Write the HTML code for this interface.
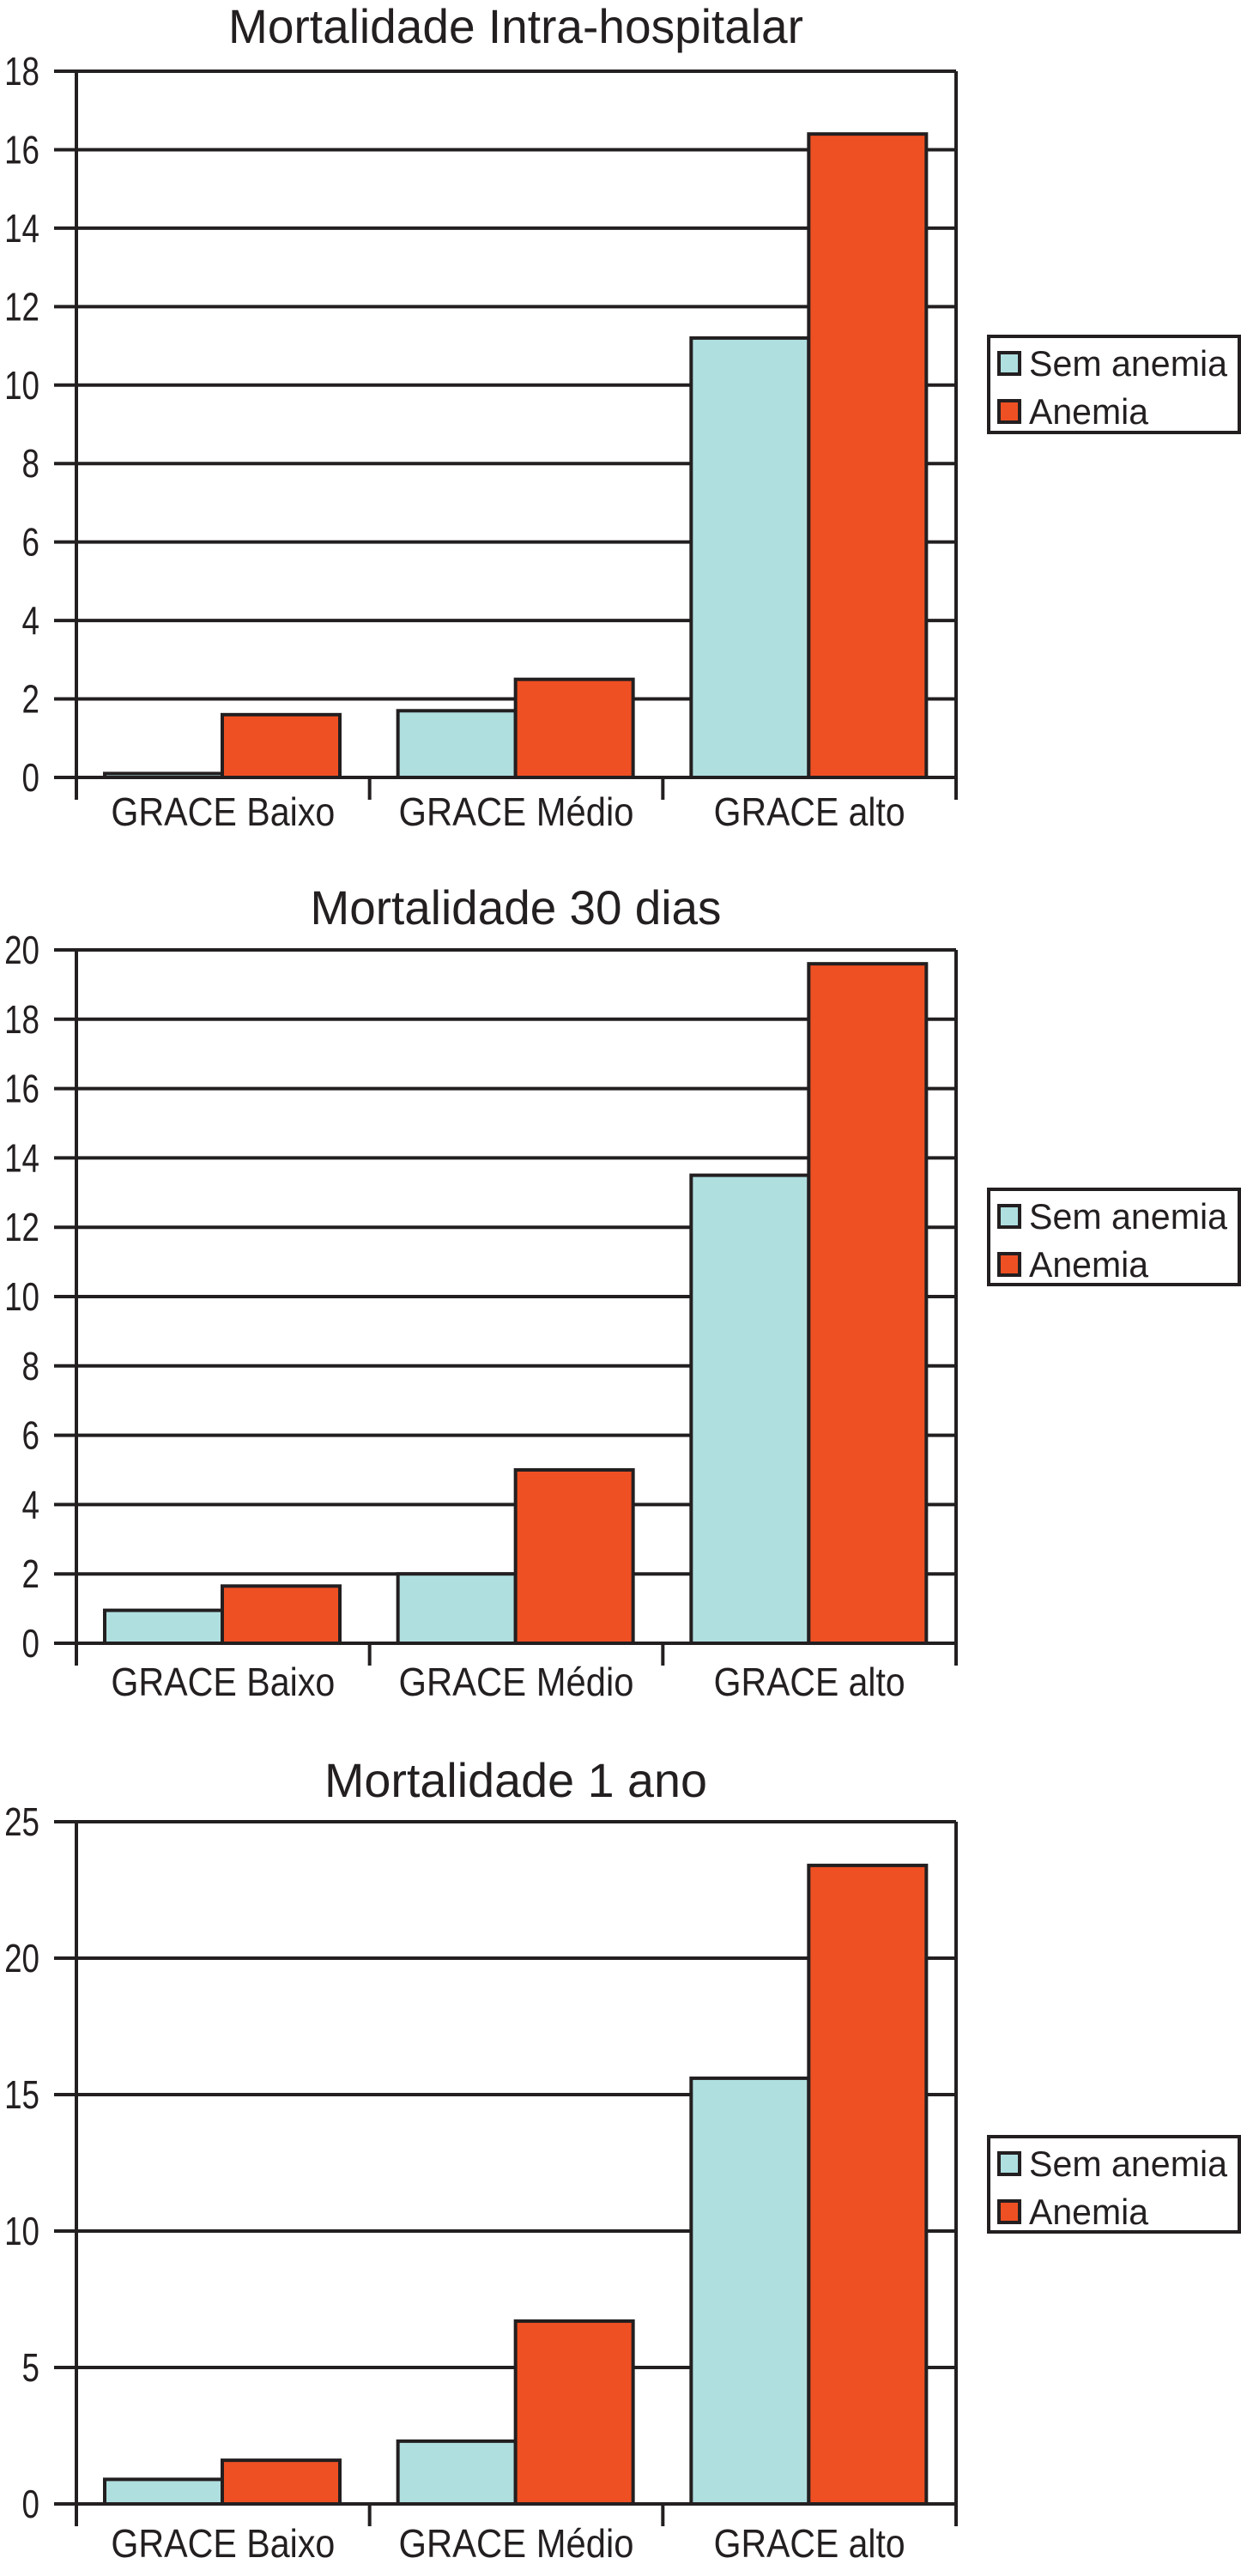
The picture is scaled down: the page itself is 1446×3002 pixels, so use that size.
<!DOCTYPE html>
<html><head><meta charset="utf-8"><style>
html,body{margin:0;padding:0;background:#fff;}
svg{display:block;}
text{font-family:"Liberation Sans Narrow","Liberation Sans",sans-serif;fill:#231f20;}
</style></head><body>
<svg id="fig" width="1446" height="3002" viewBox="0 0 1446 3002" xmlns="http://www.w3.org/2000/svg"></svg>
<script>
const categories = ["GRACE Baixo", "GRACE Médio", "GRACE alto"];
const seriesNames = ["Sem anemia", "Anemia"];
const titles = ["Mortalidade Intra-hospitalar", "Mortalidade 30 dias", "Mortalidade 1 ano"];
const semAnemiaHosp = [0.1, 1.7, 11.2];
const anemiaHosp = [1.6, 2.5, 16.4];
const semAnemia30 = [0.95, 2.0, 13.5];
const anemia30 = [1.65, 5.0, 19.6];
const semAnemia1a = [0.9, 2.3, 15.6];
const anemia1a = [1.6, 6.7, 23.4];
const ticksHosp = [0, 2, 4, 6, 8, 10, 12, 14, 16, 18];
const ticks30 = [0, 2, 4, 6, 8, 10, 12, 14, 16, 18, 20];
const ticks1a = [0, 5, 10, 15, 20, 25];

const NS = "http://www.w3.org/2000/svg";
const svg = document.getElementById("fig");
const colors = ["#b0dfe0", "#ef5023"];
const SW = 4;
function mk(tag, attrs, parent) {
  const e = document.createElementNS(NS, tag);
  for (const k in attrs) e.setAttribute(k, attrs[k]);
  (parent || svg).appendChild(e);
  return e;
}
const layouts = [
  {top: 83, bottom: 906, titleY: 50, catY: 962, legTop: 392, legBot: 504, titleW: 670},
  {top: 1107, bottom: 1915, titleY: 1077, catY: 1976, legTop: 1386, legBot: 1497, titleW: 479},
  {top: 2123, bottom: 2918, titleY: 2094, catY: 2980, legTop: 2490, legBot: 2601, titleW: 446}
];
const allSeries = [[semAnemiaHosp, anemiaHosp], [semAnemia30, anemia30], [semAnemia1a, anemia1a]];
const allTicks = [ticksHosp, ticks30, ticks1a];
const catW = [261, 274, 223];
const left = 89, right = 1114;

layouts.forEach((L, ci) => {
  const g = mk("g", {});
  
  
  const ticks = allTicks[ci];
  const maxV = ticks[ticks.length - 1];
  const y = v => L.bottom - (v / maxV) * (L.bottom - L.top);
  const groupW = (right - left) / categories.length;
  const xg = i => left + i * groupW;

  const t = mk("text", {x: 601, y: L.titleY, "text-anchor": "middle", "font-size": 56, textLength: L.titleW, lengthAdjust: "spacingAndGlyphs"}, g);
  t.textContent = titles[ci];
  
  

  ticks.forEach(v => {
    const gl = mk("line", {x1: left - 26, x2: right, y1: y(v), y2: y(v), stroke: "#231f20", "stroke-width": SW}, g);
    
    
    const tl = mk("text", {x: 46 / 0.8, y: y(v) + 16, "text-anchor": "end", "font-size": 46, transform: "scale(0.8,1)"}, g);
    tl.textContent = v;
    
    
  });
  mk("line", {x1: left, x2: left, y1: L.top, y2: L.bottom + 26, stroke: "#231f20", "stroke-width": SW}, g);
  mk("line", {x1: right, x2: right, y1: L.top, y2: L.bottom + 26, stroke: "#231f20", "stroke-width": SW}, g);
  for (let i = 1; i < categories.length; i++) {
    mk("line", {x1: xg(i), x2: xg(i), y1: L.bottom, y2: L.bottom + 26, stroke: "#231f20", "stroke-width": SW}, g);
  }

  const barW = 137, off = 33;
  allSeries[ci].forEach((vals, si) => {
    vals.forEach((v, i) => {
      const bx = xg(i) + off + si * barW;
      const r = mk("rect", {x: bx, y: y(v), width: barW, height: L.bottom - y(v), fill: colors[si], stroke: "#231f20", "stroke-width": SW}, g);
      
      
    });
  });
  mk("line", {x1: left - 26, x2: right, y1: L.bottom, y2: L.bottom, stroke: "#231f20", "stroke-width": SW}, g);

  categories.forEach((c, i) => {
    const ct = mk("text", {x: xg(i) + groupW / 2, y: L.catY, "text-anchor": "middle", "font-size": 46, textLength: catW[i], lengthAdjust: "spacingAndGlyphs"}, g);
    ct.textContent = c;
    
    
  });

  const lg = mk("g", {}, g);
  
  
  mk("rect", {x: 1152, y: L.legTop, width: 292, height: L.legBot - L.legTop, fill: "#fff", stroke: "#231f20", "stroke-width": SW}, lg);
  seriesNames.forEach((n, si) => {
    const sy = L.legTop + 19 + si * 56;
    const sw = mk("rect", {x: 1164, y: sy, width: 24, height: 25, fill: colors[si], stroke: "#231f20", "stroke-width": SW}, lg);
    
    
    const lt = mk("text", {x: 1199, y: sy + 27, "font-size": 42, textLength: si === 0 ? 231 : 139, lengthAdjust: "spacingAndGlyphs"}, lg);
    lt.textContent = n;
    
    
  });
});
</script>
</body></html>
